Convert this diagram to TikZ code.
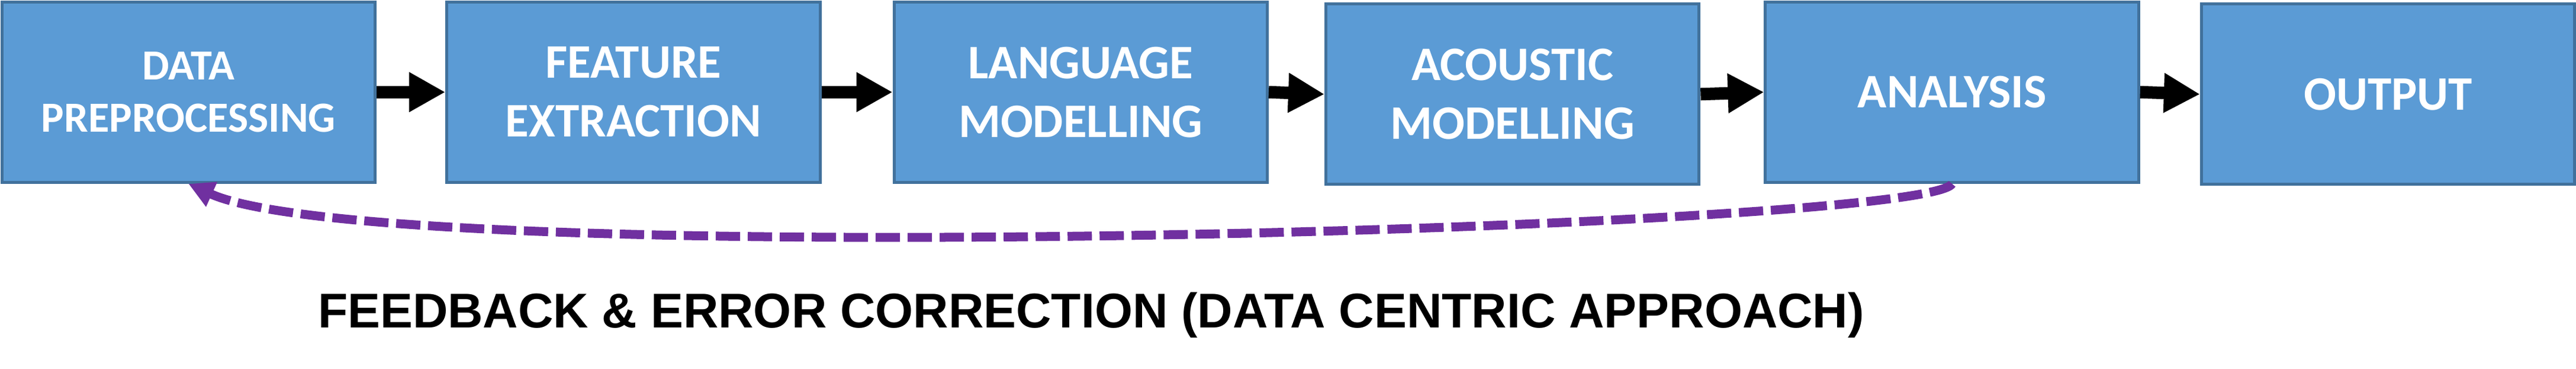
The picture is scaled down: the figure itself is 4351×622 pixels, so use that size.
\documentclass[tikz,border=0pt]{standalone}
\usepackage{fontspec}
\usepackage{tikz}
\usetikzlibrary{arrows.meta}
\newfontfamily\boxfont{Carlito}
\newfontfamily\notefont{Liberation Sans}
\definecolor{boxfill}{HTML}{5B9BD5}
\definecolor{boxline}{HTML}{41719C}
\definecolor{loopcol}{HTML}{7030A0}

\begin{document}
\begin{tikzpicture}[
   x=0.01cm,y=0.01cm,
   every matrix/.style={ampersand replacement=\&,column sep=0.94cm,inner sep=0pt},
   stage/.style={draw=boxline,fill=boxfill,line width=0.05cm,minimum width=6.30cm,minimum height=3.04cm,inner sep=0pt,align=center,text=white,font=\boxfont\bfseries\fontsize{23.1}{28.2}\selectfont},
   longtext/.style={font=\boxfont\bfseries\fontsize{20.6}{25}\selectfont},
   flow/.style={-{Triangle[length=0.61cm,width=0.63cm]},line width=0.21cm},
   back/.style={-{Triangle[length=0.43cm,width=0.43cm]},draw=loopcol,line width=0.15cm,dash pattern=on 0.41cm off 0.13cm}]
\useasboundingbox (0,0) rectangle (4351,-622);
\matrix[anchor=north west] (M) at (0,0) {
\node[stage,longtext] (DP) {DATA\\PREPROCESSING};\&[0.22cm]\node[stage] (FE) {FEATURE\\EXTRACTION};\&[0.26cm]\node[stage] (LM) {LANGUAGE\\MODELLING};\&\node[stage,yshift=-0.035cm] (AM) {ACOUSTIC\\MODELLING};\&[0.13cm]\node[stage] (AN) {ANALYSIS};\&[0.07cm]\node[stage,yshift=-0.035cm] (OU) {OUTPUT};\\
};
\draw[flow] (DP.east) -- (FE.west);
\draw[flow] (FE.east) -- (LM.west);
\draw[flow] (LM.east) -- (AM.west);
\draw[flow] (AM.east) -- (AN.west);
\draw[flow] (AN.east) -- (OU.west);
\draw[back] (AN.south) .. controls +(-45,-76) and +(331,-150) .. (DP.south);
\node[font=\notefont\bfseries\fontsize{23.4}{28}\selectfont,anchor=base] (fb) at (1843,-553) {FEEDBACK \& ERROR CORRECTION (DATA CENTRIC APPROACH)};
\end{tikzpicture}
\end{document}
